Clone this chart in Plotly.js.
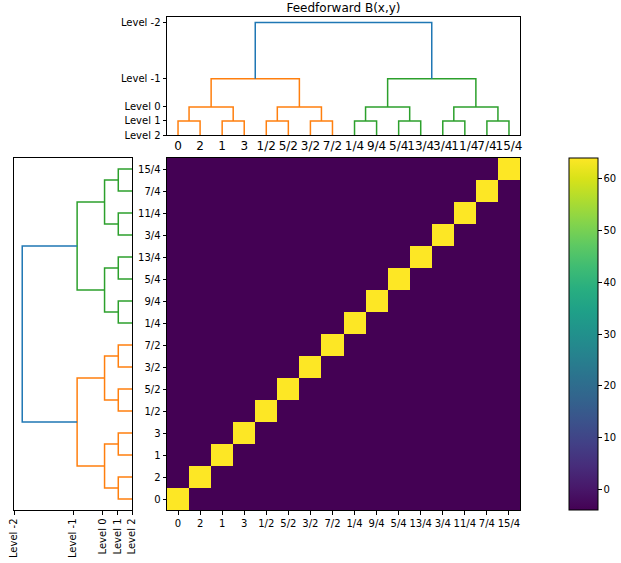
<!DOCTYPE html>
<html>
<head>
<meta charset="utf-8">
<script src="https://cdn.plot.ly/plotly-3.0.1.min.js"></script>
<style>html,body{margin:0;padding:0;background:#fff;}#chart{width:621px;height:563px;}</style>
</head>
<body>
<div id="chart"></div>
<script>
// ---- data ----
const leafLabels = ['0','2','1','3','1/2','5/2','3/2','7/2','1/4','9/4','5/4','13/4','3/4','11/4','7/4','15/4'];
// linkage: node ids 0..15 are leaves (in displayed order), merges create nodes 16..30
const mergeA = [0, 2, 4, 6, 8, 10, 12, 14, 16, 18, 20, 22, 24, 26, 28];
const mergeB = [1, 3, 5, 7, 9, 11, 13, 15, 17, 19, 21, 23, 25, 27, 29];
const mergeHeight = [1, 1, 1, 1, 1, 1, 1, 1, 2, 2, 2, 2, 4, 4, 8];
const levelLabels = ['Level -2', 'Level -1', 'Level 0', 'Level 1', 'Level 2'];
const levelHeights = [8, 4, 2, 1, 0];
const colorbarTicks = [0, 10, 20, 30, 40, 50, 60];
// heatmap B(x,y): rows = y categories (bottom first), cols = x categories
const zValues = [
 [64,-4,-4,-4,-4,-4,-4,-4,-4,-4,-4,-4,-4,-4,-4,-4],
 [-4,64,-4,-4,-4,-4,-4,-4,-4,-4,-4,-4,-4,-4,-4,-4],
 [-4,-4,64,-4,-4,-4,-4,-4,-4,-4,-4,-4,-4,-4,-4,-4],
 [-4,-4,-4,64,-4,-4,-4,-4,-4,-4,-4,-4,-4,-4,-4,-4],
 [-4,-4,-4,-4,64,-4,-4,-4,-4,-4,-4,-4,-4,-4,-4,-4],
 [-4,-4,-4,-4,-4,64,-4,-4,-4,-4,-4,-4,-4,-4,-4,-4],
 [-4,-4,-4,-4,-4,-4,64,-4,-4,-4,-4,-4,-4,-4,-4,-4],
 [-4,-4,-4,-4,-4,-4,-4,64,-4,-4,-4,-4,-4,-4,-4,-4],
 [-4,-4,-4,-4,-4,-4,-4,-4,64,-4,-4,-4,-4,-4,-4,-4],
 [-4,-4,-4,-4,-4,-4,-4,-4,-4,64,-4,-4,-4,-4,-4,-4],
 [-4,-4,-4,-4,-4,-4,-4,-4,-4,-4,64,-4,-4,-4,-4,-4],
 [-4,-4,-4,-4,-4,-4,-4,-4,-4,-4,-4,64,-4,-4,-4,-4],
 [-4,-4,-4,-4,-4,-4,-4,-4,-4,-4,-4,-4,64,-4,-4,-4],
 [-4,-4,-4,-4,-4,-4,-4,-4,-4,-4,-4,-4,-4,64,-4,-4],
 [-4,-4,-4,-4,-4,-4,-4,-4,-4,-4,-4,-4,-4,-4,64,-4],
 [-4,-4,-4,-4,-4,-4,-4,-4,-4,-4,-4,-4,-4,-4,-4,64]
];

// ---- build dendrogram geometry (scipy convention: leaves at 5, 15, 25, ...) ----
const nLeaves = leafLabels.length;
const pos = [], hgt = [], leavesOf = [];
for (let i = 0; i < nLeaves; i++) { pos.push(5 + 10 * i); hgt.push(0); leavesOf.push([i]); }
const rootH = Math.max(...mergeHeight);
const segs = {blue: {p: [], h: []}, orange: {p: [], h: []}, green: {p: [], h: []}};
for (let k = 0; k < mergeA.length; k++) {
  const a = mergeA[k], b = mergeB[k], h = mergeHeight[k];
  const lv = leavesOf[a].concat(leavesOf[b]);
  let col;
  if (h >= rootH) col = 'blue';
  else if (Math.max(...lv) < nLeaves / 2) col = 'orange';
  else col = 'green';
  const s = segs[col];
  s.p.push(pos[a], pos[a], pos[b], pos[b], null);
  s.h.push(hgt[a], h, h, hgt[b], null);
  pos.push((pos[a] + pos[b]) / 2); hgt.push(h); leavesOf.push(lv);
}
const colors = {blue: '#1f77b4', orange: '#ff7f0e', green: '#2ca02c'};

const W = 621, H = 563;
const fx = p => p / W, fy = p => 1 - p / H;
const FONT = 'DejaVu Sans, sans-serif';
const leafPos = pos.slice(0, nLeaves);

const traces = [];
traces.push({
  type: 'heatmap', x: leafLabels, y: leafLabels, z: zValues,
  xaxis: 'x', yaxis: 'y', colorscale: 'Viridis', zmin: -4, zmax: 64,
  hoverinfo: 'skip',
  colorbar: {
    x: fx(569), xanchor: 'left', xpad: 0, y: fy(158), yanchor: 'top', ypad: 0,
    len: 352, lenmode: 'pixels', thickness: 29, thicknessmode: 'pixels',
    outlinewidth: 1, outlinecolor: '#000',
    tickmode: 'array', tickvals: colorbarTicks, ticks: 'outside', ticklen: 3.5, tickwidth: 1, tickcolor: '#000',
    tickfont: {family: FONT, size: 10, color: '#000'}
  }
});
for (const c of ['orange', 'green', 'blue']) {
  traces.push({type: 'scatter', mode: 'lines', x: segs[c].p, y: segs[c].h, xaxis: 'x2', yaxis: 'y2',
    line: {color: colors[c], width: 1.5}, hoverinfo: 'skip', showlegend: false});
  traces.push({type: 'scatter', mode: 'lines', x: segs[c].h, y: segs[c].p, xaxis: 'x3', yaxis: 'y3',
    line: {color: colors[c], width: 1.5}, hoverinfo: 'skip', showlegend: false});
}

const frame = {showline: true, mirror: true, linecolor: '#000', linewidth: 1, showgrid: false, zeroline: false};
const tf = {family: FONT, size: 10, color: '#000'};
const leftScale = 8.6 / 8;

const layout = {
  width: W, height: H, margin: {l: 0, r: 0, t: 0, b: 0, autoexpand: false},
  paper_bgcolor: '#fff', plot_bgcolor: '#fff', showlegend: false,
  font: {family: FONT, size: 10, color: '#000'},
  title: {text: 'Feedforward B(x,y)', x: fx(343.5), xref: 'paper', xanchor: 'center',
    y: 1 - 8 / H, yref: 'container', yanchor: 'middle', font: {family: FONT, size: 12, color: '#000'}},
  xaxis: Object.assign({}, frame, {domain: [fx(167), fx(520)], anchor: 'y', type: 'category',
    categoryorder: 'array', categoryarray: leafLabels, tickmode: 'array', tickvals: leafLabels,
    ticks: 'outside', ticklen: 3.5, tickwidth: 1, tickcolor: '#000', tickangle: 0, tickfont: tf}),
  yaxis: Object.assign({}, frame, {domain: [fy(510), fy(158)], anchor: 'x', type: 'category',
    categoryorder: 'array', categoryarray: leafLabels, tickmode: 'array', tickvals: leafLabels,
    ticks: 'outside', ticklen: 3.5, tickwidth: 1, tickcolor: '#000', tickfont: tf}),
  xaxis2: Object.assign({}, frame, {domain: [fx(167), fx(520)], anchor: 'y2', range: [0, 10 * nLeaves],
    tickmode: 'array', tickvals: leafPos, ticktext: leafLabels, ticks: '', tickangle: 0,
    tickfont: {family: FONT, size: 12, color: '#000'}}),
  yaxis2: Object.assign({}, frame, {domain: [fy(135), fy(17)], anchor: 'x2', range: [0, rootH * 1.05],
    tickmode: 'array', tickvals: levelHeights, ticktext: levelLabels,
    ticks: 'outside', ticklen: 3.5, tickwidth: 1, tickcolor: '#000', tickfont: tf}),
  xaxis3: Object.assign({}, frame, {domain: [fx(14), fx(132)], anchor: 'y3', range: [rootH * leftScale, 0],
    tickmode: 'array', tickvals: levelHeights.map(v => v * leftScale), ticktext: levelLabels, tickangle: -90,
    ticks: 'outside', ticklen: 3.5, tickwidth: 1, tickcolor: '#000', tickfont: tf}),
  yaxis3: Object.assign({}, frame, {domain: [fy(510), fy(158)], anchor: 'x3', range: [0, 10 * nLeaves],
    showticklabels: false, ticks: ''})
};
Plotly.newPlot('chart', traces, layout, {staticPlot: true, displayModeBar: false});
</script>
</body>
</html>
